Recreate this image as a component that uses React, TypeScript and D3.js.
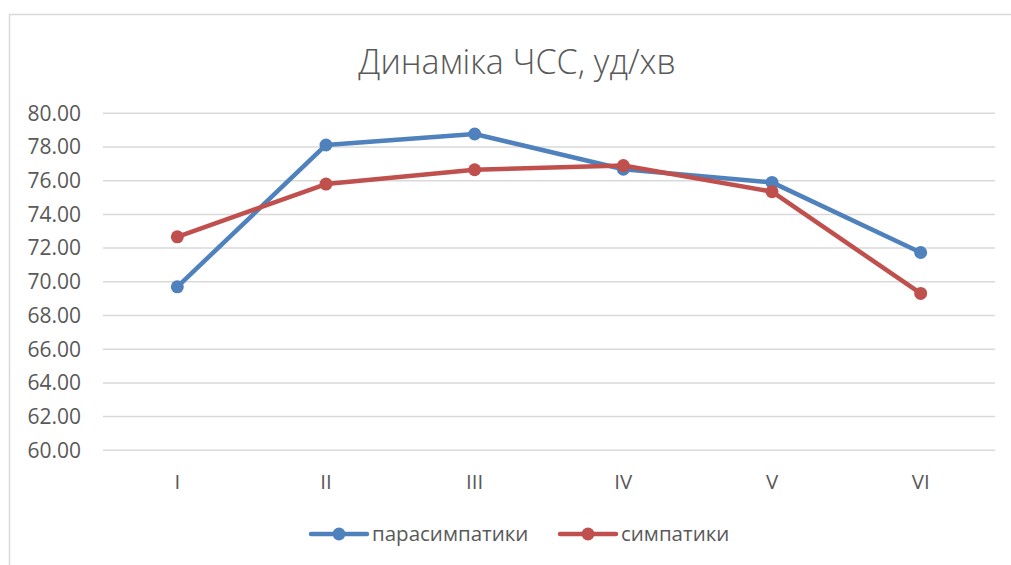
import React, { useEffect, useRef } from 'react';
import * as d3 from 'd3';

const categories = ['I', 'II', 'III', 'IV', 'V', 'VI'];
const parasympathetic = [69.7, 78.12, 78.77, 76.68, 75.9, 71.74];
const sympathetic = [72.67, 75.8, 76.65, 76.9, 75.35, 69.31];
const yTicks = [60, 62, 64, 66, 68, 70, 72, 74, 76, 78, 80];
const seriesNames = ['парасимпатики', 'симпатики'];

const W = 1011;
const H = 565;
const font = "'Open Sans', 'Noto Sans', sans-serif";
const textColor = '#595959';
const gridColor = '#d9d9d9';
const colors = ['#4f81bd', '#c0504d'];

const App = () => {
  const ref = useRef<SVGSVGElement>(null);

  useEffect(() => {
    const svg = d3.select(ref.current);
    svg.selectAll('*').remove();

    // chart frame (only top and left edges are visible in the picture)
    svg.append('line')
      .attr('x1', 9).attr('x2', W).attr('y1', 14.5).attr('y2', 14.5)
      .attr('stroke', gridColor).attr('stroke-width', 1.5);
    svg.append('line')
      .attr('x1', 9.5).attr('x2', 9.5).attr('y1', 14).attr('y2', H)
      .attr('stroke', gridColor).attr('stroke-width', 1.5);

    svg.append('text')
      .text('Динаміка ЧСС, уд/хв')
      .attr('x', 517)
      .attr('y', 74)
      .attr('text-anchor', 'middle')
      .style('font-family', font)
      .style('font-weight', 300)
      .style('font-size', '34px')
      .style('fill', textColor);

    const x = d3.scaleBand().domain(categories).range([103, 995]);
    const y = d3.scaleLinear().domain([60, 80]).range([450.3, 113.3]);

    svg.append('g')
      .selectAll('line')
      .data(yTicks)
      .enter()
      .append('line')
      .attr('x1', 103).attr('x2', 995)
      .attr('y1', d => y(d)).attr('y2', d => y(d))
      .attr('stroke', gridColor).attr('stroke-width', 1.5);

    svg.append('g')
      .selectAll('text')
      .data(yTicks)
      .enter()
      .append('text')
      .text(d => d.toFixed(2))
      .attr('x', 81)
      .attr('y', d => y(d))
      .attr('dy', '0.35em')
      .attr('text-anchor', 'end')
      .style('font-family', font)
      .style('font-size', '21px')
      .style('fill', textColor);

    svg.append('g')
      .selectAll('text')
      .data(categories)
      .enter()
      .append('text')
      .text(d => d)
      .attr('x', d => x(d)! + x.bandwidth() / 2)
      .attr('y', 489)
      .attr('text-anchor', 'middle')
      .style('font-family', font)
      .style('font-size', '20.5px')
      .style('fill', textColor);

    const line = d3.line<number>()
      .x((_, i) => x(categories[i])! + x.bandwidth() / 2)
      .y(d => y(d));

    [parasympathetic, sympathetic].forEach((vals, si) => {
      const g = svg.append('g');
      g.append('path')
        .attr('d', line(vals))
        .attr('fill', 'none')
        .attr('stroke', colors[si])
        .attr('stroke-width', 4.5)
        .attr('stroke-linejoin', 'round')
        .attr('stroke-linecap', 'round');
      g.selectAll('circle')
        .data(vals)
        .enter()
        .append('circle')
        .attr('cx', (_, i) => x(categories[i])! + x.bandwidth() / 2)
        .attr('cy', d => y(d))
        .attr('r', 6.5)
        .attr('fill', colors[si]);
    });

    // legend
    const legendX = [311, 560];
    seriesNames.forEach((name, i) => {
      const lx = legendX[i];
      const g = svg.append('g');
      g.append('line')
        .attr('x1', lx).attr('x2', lx + 56)
        .attr('y1', 534).attr('y2', 534)
        .attr('stroke', colors[i]).attr('stroke-width', 4.5)
        .attr('stroke-linecap', 'round');
      g.append('circle')
        .attr('cx', lx + 28).attr('cy', 534).attr('r', 6.5)
        .attr('fill', colors[i]);
      g.append('text')
        .text(name)
        .attr('x', lx + 61)
        .attr('y', 534)
        .attr('dy', '0.35em')
        .style('font-family', font)
        .style('font-size', '20.5px')
        .style('fill', textColor);
    });
  }, []);

  return (
    <svg
      ref={ref}
      width={W}
      height={H}
      style={{ position: 'absolute', left: 0, top: 0, background: '#fff' }}
    />
  );
};

export default App;
